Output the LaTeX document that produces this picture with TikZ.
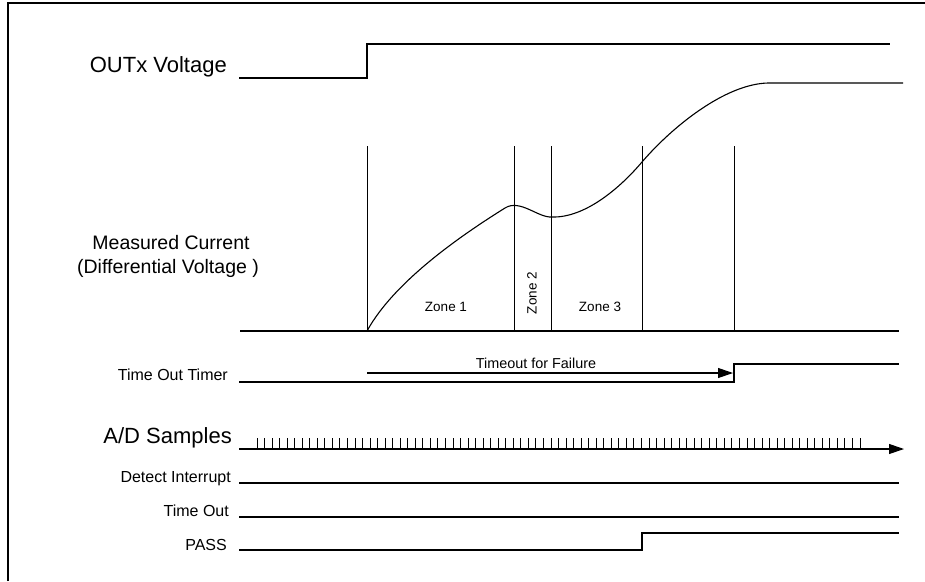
\documentclass[tikz,border=0pt]{standalone}
\usepackage{fontspec}
\setmainfont{Liberation Sans}
\usetikzlibrary{arrows.meta}
\begin{document}
\begin{tikzpicture}[x=1pt,y=-1pt,
  sig/.style={line width=1.1pt, line join=miter},
  thin/.style={line width=0.9pt},
  lblbig/.style={inner sep=0pt, font=\fontsize{22}{26}\selectfont},
  lblmid/.style={inner sep=0pt, font=\fontsize{19.5}{23}\selectfont},
  lblsmall/.style={inner sep=0pt, font=\fontsize{16}{19}\selectfont},
  lbltiny/.style={inner sep=0pt, font=\fontsize{14.4}{17}\selectfont},
  zonelbl/.style={inner sep=0pt, font=\fontsize{13.5}{16}\selectfont},
  tip/.style={-{Triangle[length=15pt,width=10pt]}}]
\useasboundingbox (0,0) rectangle (925,581);
% frame
\draw[line width=1.5pt] (8,581) -- (8,3) -- (925,3);

% labels
\node[lblbig, anchor=base east] (outx) at (227,72) {OUTx Voltage};
\node[lblmid, anchor=base] (mc1) at (171,249) {Measured Current};
\node[lblmid, anchor=base] (mc2) at (168,273) {(Differential Voltage )};
\node[lblsmall, anchor=base east] (tot) at (228,380) {Time Out Timer};
\node[lblbig, anchor=base east] (ads) at (232,443) {A/D Samples};
\node[lblsmall, anchor=base east] (det) at (231,482) {Detect Interrupt};
\node[lblsmall, anchor=base east] (to) at (229,516) {Time Out};
\node[lblsmall, anchor=base east] (pass) at (227,550) {PASS};

% OUTx voltage
\coordinate (o0) at (239,78);
\coordinate (o1) at (367,78);
\coordinate (o2) at (367,44);
\coordinate (o3) at (890,44);
\draw[sig] (o0) -- (o1) -- (o2) -- (o3);

% current plot axes
\coordinate (b0) at (240,331);
\coordinate (b1) at (899,331);
\draw[sig] (b0) -- (b1);
\foreach \xx in {367,514,551,642,734}
  \draw[thin] (\xx,146) -- (\xx,331);

\node[zonelbl, anchor=base] (z1) at (446,311) {Zone 1};
\node[zonelbl, rotate=90] (z2) at (532,293) {Zone 2};
\node[zonelbl, anchor=base] (z3) at (600,311) {Zone 3};

% current curve
\coordinate (c0) at (367,331);
\coordinate (c1) at (505,208);
\coordinate (c2) at (552,217);
\coordinate (c3) at (642,162);
\coordinate (c4) at (768,83);
\coordinate (c5) at (903,83);
\draw[sig, line join=round] (c0) .. controls (395,280) and (465,233) .. (c1)
  .. controls (520,198.6) and (538,218) .. (c2)
  .. controls (585,218) and (620,188) .. (c3)
  .. controls (672,127) and (725,84) .. (c4) -- (c5);

% time out timer
\coordinate (t0) at (239,382);
\coordinate (t1) at (734,382);
\coordinate (t2) at (734,364);
\coordinate (t3) at (899,364);
\draw[sig] (t0) -- (t1) -- (t2) -- (t3);
\coordinate (ta) at (367,373);
\coordinate (tb) at (733,373);
\draw[sig, tip] (ta) -- (tb);
\node[lbltiny, anchor=base] (tff) at (536,368) {Timeout for Failure};

% A/D samples
\coordinate (a0) at (239,449);
\coordinate (a1) at (904,449);
\draw[sig, tip] (a0) -- (a1);
\foreach \i in {0,...,80}
  \draw[thin] ({257+\i*7.5375},438) -- ++(0,11);

% detect interrupt, time out
\coordinate (d0) at (239,483);
\coordinate (d1) at (899,483);
\draw[sig] (d0) -- (d1);
\coordinate (e0) at (239,517);
\coordinate (e1) at (899,517);
\draw[sig] (e0) -- (e1);

% pass
\coordinate (p0) at (239,550);
\coordinate (p1) at (642,550);
\coordinate (p2) at (642,533);
\coordinate (p3) at (899,533);
\draw[sig] (p0) -- (p1) -- (p2) -- (p3);
\end{tikzpicture}
\end{document}
